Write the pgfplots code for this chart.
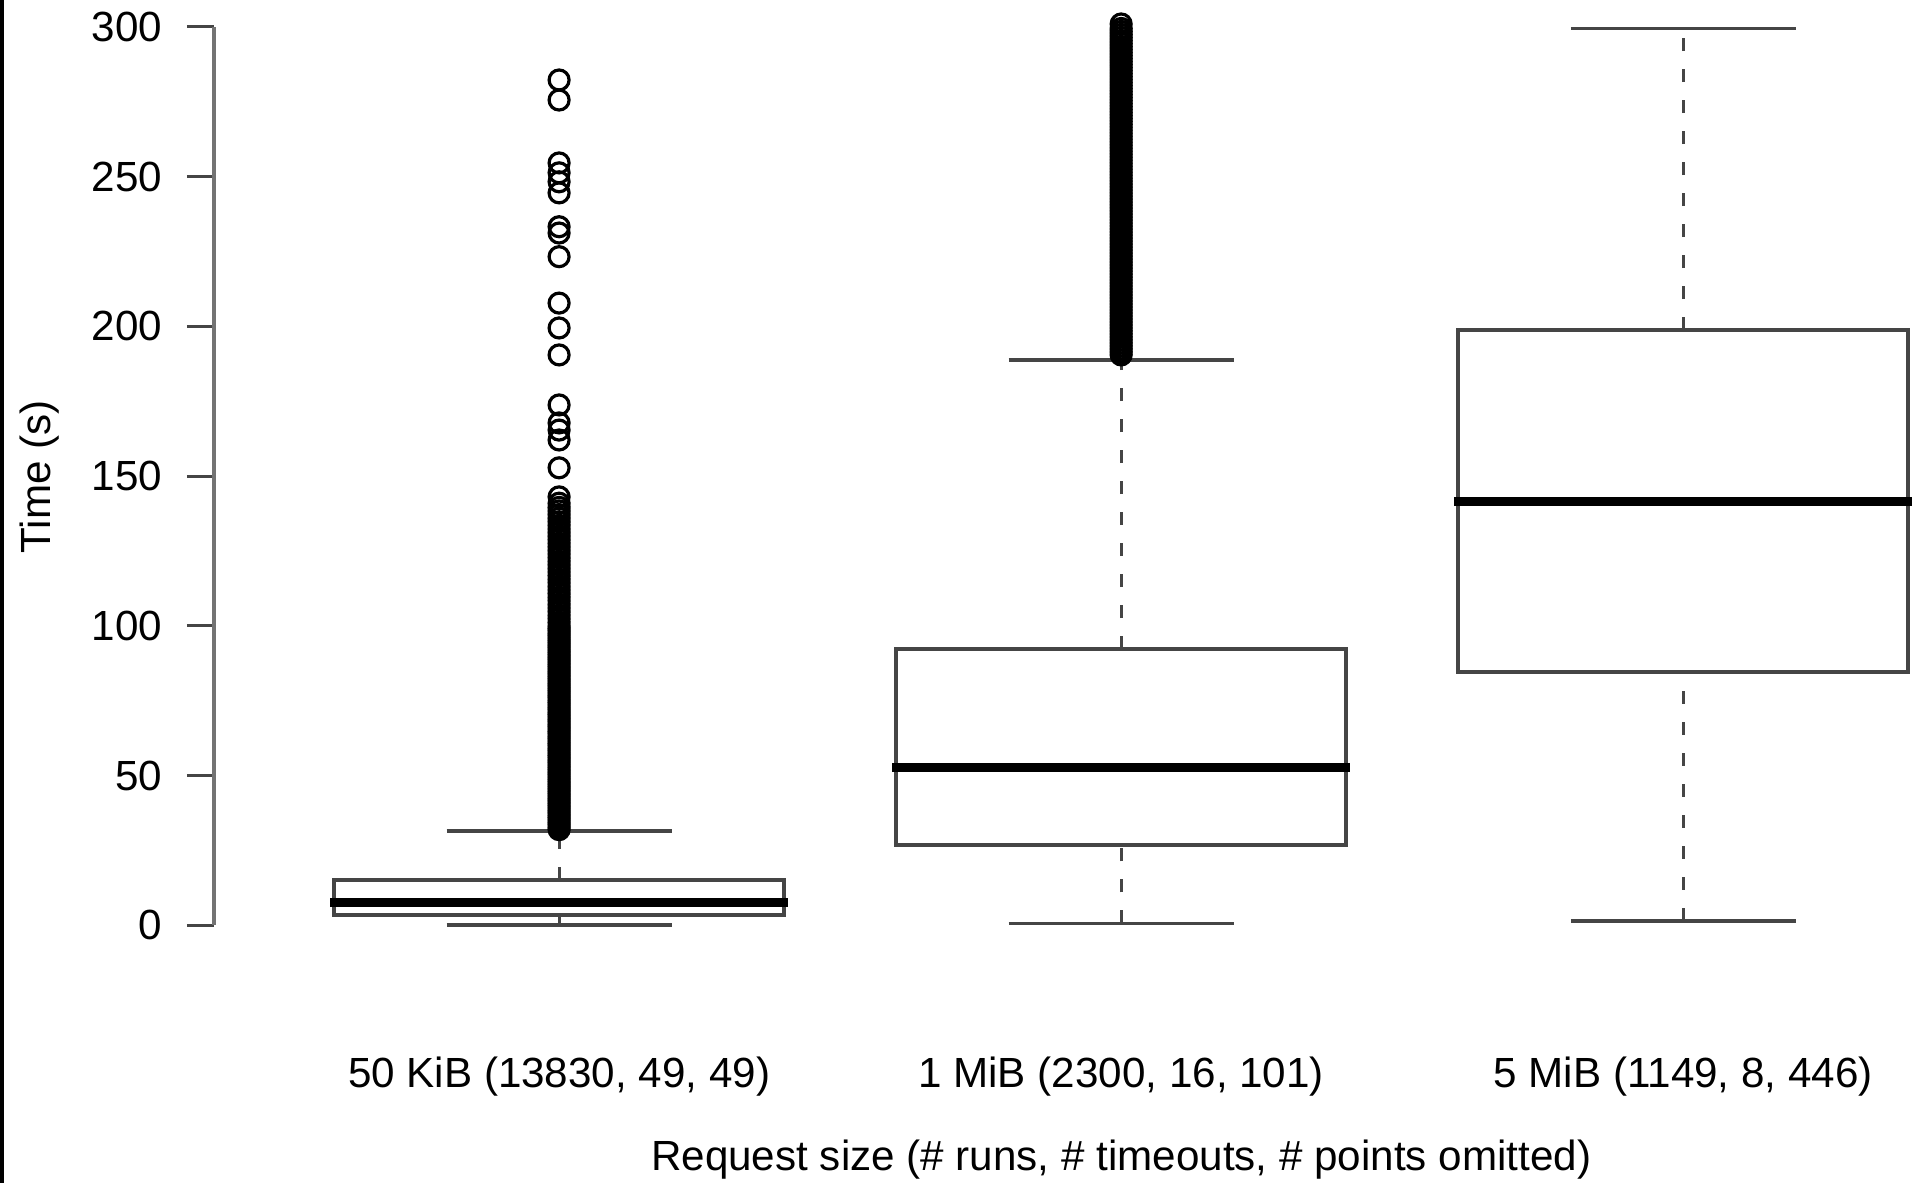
\documentclass[12pt,border=0pt]{standalone}
\usepackage{fontspec}
\setmainfont{Liberation Sans}
\usepackage{pgfplots}
\pgfplotsset{compat=1.18}
\definecolor{boxgray}{gray}{0.27}
\pgfplotsset{
  boxline/.style={boxgray, line width=0.38mm, mark=none},
  medline/.style={black, line width=0.85mm, line cap=rect, mark=none},
  whisk/.style={boxgray, line width=0.3mm, dash pattern=on 1.3mm off 1.8mm, mark=none},
  capline/.style={boxgray, line width=0.35mm, mark=none},
  outl/.style={only marks, mark=o, mark size=1.0mm, mark options={black, line width=0.32mm}},
}
\begin{document}
\begin{tikzpicture}
\path[use as bounding box] (-21.4mm,-22.16mm) rectangle (170.3mm,96.14mm);
\fill[black] (-21.4mm,-22.16mm) rectangle (-21.0mm,96.14mm);
\begin{axis}[
  scale only axis, width=170.3mm, height=96.14mm,
  xmin=0.386, xmax=3.416, ymin=-12, ymax=309,
  clip=false,
  axis x line*=bottom, axis y line*=left,
  axis line style={draw=none},
  tick align=outside, major tick length=2.7mm,
  ytick={0,50,100,150,200,250,300},
  xtick={1,2,3},
  xticklabels={{50 KiB (13830, 49, 49)},{1 MiB (2300, 16, 101)},{5 MiB (1149, 8, 446)}},
  xtick style={draw=none},
  ytick style={boxgray, line width=0.3mm},
  minor tick num=0,
  /pgf/number format/assume math mode=true,
  tick label style={font=\fontsize{12}{14}\selectfont, text=black},
  yticklabel style={xshift=-1mm},
  xticklabel style={anchor=base, yshift=-9.86mm},
  xlabel={Request size (\# runs, \# timeouts, \# points omitted)},
  ylabel={Time (s)},
  label style={font=\fontsize{12}{14}\selectfont},
  xlabel style={at={(axis description cs:0.5327,-0.217)}, anchor=base},
  ylabel style={at={(axis description cs:-0.0963,0.5039)}, anchor=base},
]
\draw[black!55, line width=0.4mm] (axis cs:0.386,0) -- (axis cs:0.386,300);

% ---- 50 KiB ----
\addplot[whisk] coordinates {(1,0.2) (1,3.5)};
\addplot[whisk] coordinates {(1,15.2) (1,31.5)};
\addplot[capline] coordinates {(0.8,0.2) (1.2,0.2)};
\addplot[capline] coordinates {(0.8,31.5) (1.2,31.5)};
\addplot[boxline] coordinates {(0.6,3.5) (1.4,3.5) (1.4,15.2) (0.6,15.2)} --cycle;
\addplot[medline] coordinates {(0.6,7.7) (1.4,7.7)};
\addplot[outl] coordinates {
(1,32) (1,32.8) (1,33.6) (1,34.4) (1,35.2) (1,36) (1,36.8) (1,37.6) (1,38.4) (1,39.2)
(1,40) (1,40.8) (1,41.6) (1,42.4) (1,43.2) (1,44) (1,44.8) (1,45.6) (1,46.4) (1,47.2)
(1,48) (1,48.8) (1,49.6) (1,50.4) (1,51.2) (1,52) (1,52.8) (1,53.6) (1,54.4) (1,55.2)
(1,56) (1,56.8) (1,57.6) (1,58.4) (1,59.2) (1,60) (1,60.8) (1,61.6) (1,62.4) (1,63.2)
(1,64) (1,64.8) (1,65.6) (1,66.4) (1,67.2) (1,68) (1,68.8) (1,69.6) (1,70.4) (1,71.2)
(1,72) (1,72.8) (1,73.6) (1,74.4) (1,75.2) (1,76) (1,76.8) (1,77.6) (1,78.4) (1,79.2)
(1,80) (1,80.8) (1,81.6) (1,82.4) (1,83.2) (1,84) (1,84.8) (1,85.6) (1,86.4) (1,87.2)
(1,88) (1,88.8) (1,89.6) (1,90.4) (1,91.2) (1,92) (1,92.8) (1,93.6) (1,94.4) (1,95.2)
(1,96) (1,96.8) (1,97.6) (1,98.4) (1,99.2) (1,100)
(1,101.2) (1,102.4) (1,103.6) (1,104.8) (1,106) (1,107.2) (1,108.4) (1,109.6) (1,110.8)
(1,112) (1,113.2) (1,114.4) (1,115.6) (1,116.8) (1,118) (1,119.2) (1,120.4) (1,121.6)
(1,122.8) (1,124) (1,125.2) (1,126.4) (1,127.6) (1,128.8) (1,130) (1,131.2) (1,132.4)
(1,133.6) (1,134.8) (1,136) (1,137.2) (1,138.4) (1,139.6) (1,141) (1,143.1)
(1,152.8) (1,162.1) (1,165.4) (1,167.8) (1,173.8) (1,190.5) (1,199.5) (1,207.8)
(1,223.3) (1,231.2) (1,233.3) (1,244.6) (1,248.3) (1,251.3) (1,254.6) (1,275.6) (1,282.3)
};

% ---- 1 MiB ----
\addplot[whisk] coordinates {(2,0.7) (2,26.9)};
\addplot[whisk] coordinates {(2,92.3) (2,188.8)};
\addplot[capline] coordinates {(1.8,0.7) (2.2,0.7)};
\addplot[capline] coordinates {(1.8,188.8) (2.2,188.8)};
\addplot[boxline] coordinates {(1.6,26.9) (2.4,26.9) (2.4,92.3) (1.6,92.3)} --cycle;
\addplot[medline] coordinates {(1.6,52.7) (2.4,52.7)};
\addplot[outl] coordinates {
(2,190.5) (2,191.5) (2,192.5) (2,193.5) (2,194.5) (2,195.5) (2,196.5) (2,197.5) (2,198.5) (2,199.5)
(2,200.5) (2,201.5) (2,202.5) (2,203.5) (2,204.5) (2,205.5) (2,206.5) (2,207.5) (2,208.5) (2,209.5)
(2,210.5) (2,211.5) (2,212.5) (2,213.5) (2,214.5) (2,215.5) (2,216.5) (2,217.5) (2,218.5) (2,219.5)
(2,220.5) (2,221.5) (2,222.5) (2,223.5) (2,224.5) (2,225.5) (2,226.5) (2,227.5) (2,228.5) (2,229.5)
(2,230.5) (2,231.5) (2,232.5) (2,233.5) (2,234.5) (2,235.5) (2,236.5) (2,237.5) (2,238.5) (2,239.5)
(2,240.5) (2,241.5) (2,242.5) (2,243.5) (2,244.5) (2,245.5) (2,246.5) (2,247.5) (2,248.5) (2,249.5)
(2,250.5) (2,251.5) (2,252.5) (2,253.5) (2,254.5) (2,255.5) (2,256.5) (2,257.5) (2,258.5) (2,259.5)
(2,260.5) (2,261.5) (2,262.5) (2,263.5) (2,264.5) (2,265.5) (2,266.5) (2,267.5) (2,268.5) (2,269.5)
(2,270.5) (2,271.5) (2,272.5) (2,273.5) (2,274.5) (2,275.5) (2,276.5) (2,277.5) (2,278.5) (2,279.5)
(2,280.5) (2,281.5) (2,282.5) (2,283.5) (2,284.5) (2,285.5) (2,286.5) (2,287.5) (2,288.5) (2,289.5)
(2,290.5) (2,291.5) (2,292.5) (2,293.5) (2,294.5) (2,295.5) (2,296.5) (2,297.5) (2,298.5) (2,299.5)
(2,301)
};

% ---- 5 MiB ----
\addplot[whisk] coordinates {(3,1.5) (3,84.7)};
\addplot[whisk] coordinates {(3,198.8) (3,299.5)};
\addplot[capline] coordinates {(2.8,1.5) (3.2,1.5)};
\addplot[capline] coordinates {(2.8,299.5) (3.2,299.5)};
\addplot[boxline] coordinates {(2.6,84.7) (3.4,84.7) (3.4,198.8) (2.6,198.8)} --cycle;
\addplot[medline] coordinates {(2.6,141.5) (3.4,141.5)};
\end{axis}
\end{tikzpicture}
\end{document}
